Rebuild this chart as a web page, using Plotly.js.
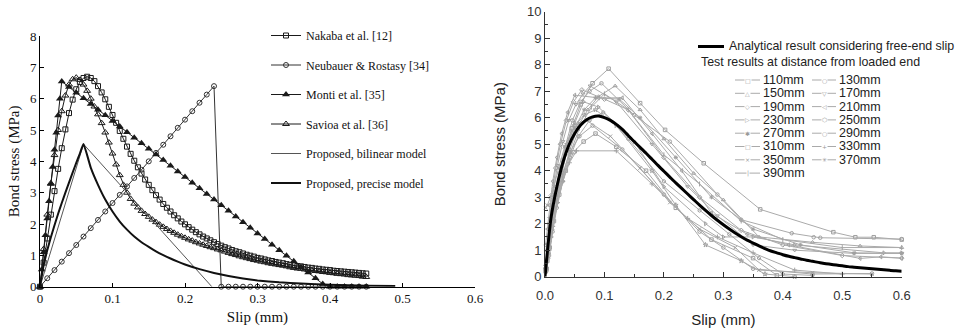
<!DOCTYPE html>
<html><head><meta charset="utf-8">
<script src="https://cdn.plot.ly/plotly-3.0.1.min.js"></script>
<style>html,body{margin:0;padding:0;background:#fff}#chart{width:961px;height:332px}</style>
</head><body><div id="chart"></div>
<script>
// ---------------- LEFT CHART DATA ----------------
// Nakaba et al. [12] : slip 0..0.45 step 0.005
const nakabaY = [0,0.77,1.54,2.30,3.05,3.76,4.42,5.02,5.54,5.97,6.30,
 6.53,6.66,6.70,6.66,6.56, 6.40,6.20,5.98,5.74,5.48, 5.23,4.97,4.72,4.47,4.24,
 4.02,3.81,3.61,3.42,3.25, 3.08,2.92,2.78,2.64,2.52, 2.40,2.28,2.18,2.08,1.99,
 1.90,1.82,1.74,1.67,1.60, 1.54,1.48,1.42,1.36,1.31, 1.26,1.22,1.17,1.13,1.10,
 1.06,1.02,0.99,0.96,0.92, 0.90,0.87,0.84,0.82,0.79, 0.77,0.75,0.72,0.70,0.68,
 0.66,0.65,0.63,0.61,0.60, 0.58,0.57,0.55,0.54,0.53, 0.51,0.50,0.49,0.48,0.47,
 0.46,0.45,0.44,0.43,0.42];
// Neubauer & Rostasy [34] : slip 0..0.45 step 0.01
const neubauerY = [0,0.27,0.53,0.8,1.07,1.33,1.6,1.87,2.13,2.4,2.67,2.93,3.2,3.47,3.73,4.0,
 4.27,4.53,4.8,5.07,5.33,5.6,5.87,6.13,6.4, 0,0,0,0,0,0,0,0,0,0,0,0,0,0,0,0,0,0,0,0,0];
// Monti et al. [35]
const montiX = [0,0.0025,0.005,0.0075,0.01,0.0125,0.015,0.0175,0.02,0.0225,0.025,0.0275,0.03,
 0.04,0.05,0.06,0.07,0.08,0.09,0.10,0.11,0.12,0.13,0.14,0.15,0.16,0.17,0.18,0.19,0.20,0.21,0.22,0.23,
 0.24,0.25,0.26,0.27,0.28,0.29,0.30,0.31,0.32,0.33,0.34,0.35,0.36,0.37,0.38,0.39,0.40,0.41,0.42,0.43,0.44,0.45];
const montiY = [0,0.55,1.1,1.64,2.18,2.73,3.28,3.82,4.37,4.91,5.46,6.0,6.55,
 6.37,6.19,6.01,5.83,5.65,5.47,5.29,5.11,4.93,4.75, 4.58,4.40,4.22,4.04,3.86,3.68,3.50,3.32,3.14,2.96,
 2.78,2.60,2.42,2.24,2.06,1.88,1.70,1.52,1.34,1.16, 0.99,0.81,0.63,0.45,0.27,0.09, 0,0,0,0,0,0];
// Savioa et al. [36] : slip 0..0.45 step 0.005
const savioaY = [0,1.2,2.3,3.3,4.2,5.0,5.6,6.1,6.45,6.62,6.67,
 6.6,6.45,6.25,6.0,5.75, 5.5,5.22,4.92,4.6,4.25, 3.9,3.56,3.25,3.0,2.8,
 2.65,2.53,2.42,2.32,2.23, 2.14,2.06,1.98,1.91,1.84, 1.78,1.72,1.66,1.61,1.56,
 1.51,1.47,1.42,1.38,1.34, 1.30,1.26,1.23,1.19,1.16, 1.12,1.08,1.04,1.01,0.97,
 0.94,0.91,0.88,0.85,0.83, 0.80,0.78,0.75,0.73,0.71, 0.69,0.67,0.65,0.62,0.60,
 0.58,0.57,0.55,0.53,0.52, 0.50,0.49,0.47,0.46,0.44, 0.43,0.41,0.40,0.39,0.37,
 0.36,0.35,0.34,0.32,0.31];
// Proposed, bilinear model
const bilinX = [0,0.06,0.237];
const bilinY = [0,4.55,0];
// Proposed, precise model
const precX = [0,0.005,0.01,0.015,0.02,0.025,0.03,0.035,0.04,0.045,0.05,0.055,0.06,0.07,0.08,0.09,0.1,0.11,0.12,0.13,0.14,0.15,0.16,0.17,0.18,0.19,0.2,0.22,0.24,0.26,0.28,0.3,0.33,0.36,0.4,0.45,0.49];
const precY = [0,0.68,1.16,1.58,1.96,2.33,2.67,3.0,3.32,3.64,3.95,4.25,4.55,3.8,3.25,2.78,2.4,2.08,1.82,1.6,1.42,1.27,1.13,1.01,0.9,0.8,0.71,0.56,0.44,0.34,0.26,0.2,0.14,0.1,0.06,0.03,0.02];
const leftNames = ['Nakaba et al. [12]','Neubauer & Rostasy [34]','Monti et al. [35]','Savioa et al. [36]','Proposed, bilinear model','Proposed, precise model'];

// ---------------- RIGHT CHART DATA ----------------
// Analytical result : slip 0..0.6 step 0.01
const analyticY = [0,2.2,3.4,4.3,4.95,5.4,5.72,5.92,6.03,6.06,
 6.0,5.9,5.75,5.56,5.33,5.1,4.88,4.66,4.43,4.2,
 3.98,3.76,3.54,3.33,3.12,2.91,2.7,2.5,2.31,2.13,
 1.96,1.8,1.65,1.51,1.38,1.27,1.16,1.06,0.97,0.9,
 0.83,0.77,0.72,0.67,0.62,0.58,0.54,0.5,0.47,0.44,
 0.41,0.38,0.36,0.34,0.32,0.3,0.28,0.26,0.24,0.22,0.21];
const testLabels = ['110mm','130mm','150mm','170mm','190mm','210mm','230mm','250mm','270mm','290mm','310mm','330mm','350mm','370mm','390mm'];
const t110x=[0.001,0.004,0.008,0.013,0.02,0.03,0.045,0.06,0.08,0.107,0.16,0.202,0.267,0.362,0.485,0.522,0.553,0.6];
const t110y=[0.2,0.6,1.4,2.3,3.3,4.4,5.6,6.5,7.3,7.85,6.55,5.54,4.28,2.54,1.68,1.49,1.49,1.4];
const t130x=[0.001,0.005,0.01,0.016,0.024,0.034,0.046,0.06,0.075,0.095,0.15,0.21,0.29,0.33,0.415,0.452,0.463,0.6];
const t130y=[0.3,1.0,1.9,2.9,3.9,4.9,5.9,6.6,7.0,7.3,6.1,5.1,3.1,2.15,1.64,1.49,1.47,1.42];
const t150x=[0.002,0.006,0.012,0.02,0.03,0.042,0.056,0.072,0.09,0.118,0.16,0.2,0.25,0.3,0.36,0.45,0.53,0.6];
const t150y=[0.3,0.9,1.8,2.8,3.8,4.8,5.7,6.3,6.8,7.2,6.3,5.2,3.9,2.9,1.5,1.3,1.16,1.1];
const t170x=[0.001,0.004,0.008,0.014,0.021,0.03,0.04,0.052,0.064,0.076,0.12,0.18,0.24,0.29,0.35,0.42,0.52,0.6];
const t170y=[0.4,1.2,2.2,3.2,4.2,5.1,5.9,6.5,6.9,7.2,6.6,5.0,3.4,2.3,1.2,1.0,0.88,0.88];
const t190x=[0.001,0.003,0.007,0.012,0.018,0.026,0.036,0.048,0.062,0.1,0.14,0.2,0.26,0.33,0.4,0.5,0.6];
const t190y=[0.3,1.0,2.0,3.1,4.1,5.0,5.9,6.6,7.05,6.7,6.3,4.5,3.0,1.75,1.2,0.8,0.7];
const t210x=[0.001,0.004,0.008,0.013,0.02,0.028,0.038,0.05,0.09,0.13,0.18,0.23,0.28,0.34,0.41,0.53,0.565,0.6];
const t210y=[1.2,1.8,2.7,3.6,4.5,5.4,6.2,6.85,6.75,6.75,5.4,4.0,2.4,1.6,1.2,0.69,0.75,0.7];
const t230x=[0.002,0.006,0.011,0.017,0.025,0.035,0.05,0.065,0.09,0.15,0.2,0.27,0.3,0.35,0.42,0.57,0.6];
const t230y=[0.2,0.7,1.5,2.5,3.5,4.6,5.8,6.6,6.4,5.1,3.4,2.0,1.5,1.5,1.2,0.9,0.9];
const t250x=[0.002,0.007,0.013,0.02,0.03,0.042,0.056,0.075,0.098,0.14,0.2,0.26,0.31,0.36,0.4,0.45];
const t250y=[0.2,0.8,1.7,2.6,3.6,4.5,5.3,5.9,6.2,5.2,3.6,2.5,1.6,0.7,0.1,0.05];
const t270x=[0.001,0.005,0.01,0.017,0.026,0.037,0.05,0.066,0.085,0.12,0.18,0.22,0.27,0.33,0.37,0.42];
const t270y=[0.3,1.1,2.1,3.1,4.1,5.0,5.7,6.1,6.3,5.7,4.0,2.7,1.2,0.6,0.1,0];
const t290x=[0.002,0.006,0.012,0.02,0.03,0.042,0.058,0.08,0.13,0.2,0.26,0.3,0.35,0.45,0.55];
const t290y=[0.2,0.9,1.9,2.9,3.9,4.7,5.3,5.7,4.8,3.1,1.7,1.1,0.3,0.1,0.12];
const t310x=[0.003,0.008,0.015,0.024,0.035,0.048,0.065,0.085,0.12,0.17,0.22,0.28,0.35,0.39];
const t310y=[0.3,1.1,2.1,3.1,4.0,4.7,5.1,5.4,4.9,4.0,2.6,1.4,0.7,0.05];
const t330x=[0.002,0.007,0.013,0.021,0.03,0.041,0.053,0.12,0.18,0.24,0.29,0.35,0.42,0.5];
const t330y=[0.3,1.0,1.9,2.8,3.6,4.3,4.75,4.75,3.5,2.2,1.5,0.9,0.25,0.1];
const t350x=[0.001,0.004,0.009,0.015,0.023,0.033,0.045,0.057,0.07,0.11,0.16,0.21,0.26,0.32,0.36,0.45,0.55];
const t350y=[2.6,2.7,3.0,3.4,4.1,4.9,5.5,5.8,5.9,5.3,4.1,2.8,1.8,1.1,0.25,0.15,0.1];
const t370x=[0.002,0.006,0.011,0.018,0.027,0.038,0.05,0.066,0.085,0.125,0.16,0.22,0.28,0.35,0.43,0.52,0.6];
const t370y=[0.3,1.0,1.9,2.9,3.9,4.8,5.6,6.3,6.75,6.7,6.0,4.5,3.0,1.8,1.2,0.9,0.88];
const t390x=[0.002,0.006,0.012,0.02,0.03,0.043,0.058,0.078,0.1,0.14,0.2,0.26,0.33,0.4,0.5,0.6];
const t390y=[0.2,0.8,1.7,2.7,3.7,4.7,5.6,6.4,6.9,6.3,4.6,3.5,2.1,1.4,1.1,1.1];

// ---------------- BUILD ----------------
const serif = "Liberation Serif";
const sans = "Liberation Sans";
const blk = '#1a1a1a';
const traces = [];
traces.push({x0:0,dx:0.005,y:nakabaY,name:leftNames[0],legendgroup:'g0',mode:'lines+markers',cliponaxis:false,
  line:{color:blk,width:1},marker:{symbol:'square-open',size:5,color:blk,line:{width:1}}});
traces.push({x0:0,dx:0.01,y:neubauerY,name:leftNames[1],legendgroup:'g1',mode:'lines+markers',cliponaxis:false,
  line:{color:'#333',width:1},marker:{symbol:'circle-open',size:5,color:'#333',line:{width:1}}});
traces.push({x:montiX,y:montiY,name:leftNames[2],legendgroup:'g2',mode:'lines+markers',cliponaxis:false,
  line:{color:blk,width:1},marker:{symbol:'triangle-up',size:7,color:blk}});
traces.push({x0:0,dx:0.005,y:savioaY,name:leftNames[3],legendgroup:'g3',mode:'lines+markers',cliponaxis:false,
  line:{color:blk,width:1},marker:{symbol:'triangle-up-open',size:6,color:blk,line:{width:1}}});
traces.push({x:bilinX,y:bilinY,name:leftNames[4],legendgroup:'g4',mode:'lines',cliponaxis:false,
  line:{color:'#555',width:1}});
traces.push({x:precX,y:precY,name:leftNames[5],legendgroup:'g5',mode:'lines',cliponaxis:false,
  line:{color:'#111',width:2,shape:'spline',smoothing:0.4}});

const testX=[t110x,t130x,t150x,t170x,t190x,t210x,t230x,t250x,t270x,t290x,t310x,t330x,t350x,t370x,t390x];
const testY=[t110y,t130y,t150y,t170y,t190y,t210y,t230y,t250y,t270y,t290y,t310y,t330y,t350y,t370y,t390y];
const syms=['square-open','circle-open','triangle-up-open','triangle-down-open','diamond-open','triangle-left-open','triangle-right-open','hexagon-open','star-open','circle-open','square-open','cross-thin-open','x-thin-open','asterisk-open','line-ns-open'];
for(let i=0;i<testLabels.length;i++){
  traces.push({x:testX[i],y:testY[i],name:testLabels[i],xaxis:'x2',yaxis:'y2',mode:'lines+markers',showlegend:false,cliponaxis:false,
    line:{color:'#aaaaaa',width:1},marker:{symbol:syms[i],size:3.5,color:'#a0a0a0',line:{width:1,color:'#a0a0a0'}}});
}
traces.push({x0:0,dx:0.01,y:analyticY,name:'Analytical result considering free-end slip',xaxis:'x2',yaxis:'y2',mode:'lines',showlegend:false,
  line:{color:'#000',width:3,shape:'spline',smoothing:0.6}});

// right legend (decorations)
const P=px=>px/961, Q=py=>1-py/332;
const shapes=[], ann=[];
shapes.push({type:'line',xref:'paper',yref:'paper',x0:P(698),x1:P(724),y0:Q(46.5),y1:Q(46.5),line:{color:'#000',width:3}});
ann.push({xref:'paper',yref:'paper',x:P(727),y:Q(46.5),xanchor:'left',yanchor:'middle',showarrow:false,
  text:'Analytical result considering free-end slip',font:{family:sans,size:12.4,color:'#222'}});
ann.push({xref:'paper',yref:'paper',x:P(699),y:Q(62),xanchor:'left',yanchor:'middle',showarrow:false,
  text:'Test results at distance from loaded end',font:{family:sans,size:12.4,color:'#222'}});
const glyphs=['□','○','△','▽','◇','◁','▷','⬡','✱','○','□','+','×','✳','|'];
for(let i=0;i<testLabels.length;i++){
  const col=i%2, row=Math.floor(i/2);
  const y=80+row*13.3;
  const lx0= col? 812:735, lx1= col? 836:760, tx= col? 837:761;
  shapes.push({type:'line',xref:'paper',yref:'paper',x0:P(lx0),x1:P(lx1),y0:Q(y),y1:Q(y),line:{color:'#aaa',width:1}});
  ann.push({xref:'paper',yref:'paper',x:P((lx0+lx1)/2),y:Q(y),xanchor:'center',yanchor:'middle',showarrow:false,
    text:glyphs[i],bgcolor:'#fff',borderpad:0,font:{family:'DejaVu Sans',size:6,color:'#999'}});
  ann.push({xref:'paper',yref:'paper',x:P(tx),y:Q(y),xanchor:'left',yanchor:'middle',showarrow:false,
    text:testLabels[i],font:{family:sans,size:12.5,color:'#222'}});
}

const layout={
  width:961,height:332,margin:{l:0,r:0,t:0,b:0},paper_bgcolor:'#fff',plot_bgcolor:'rgba(0,0,0,0)',
  font:{family:serif,size:13,color:'#111'},
  showlegend:true,
  legend:{x:P(266),y:Q(21),xanchor:'left',yanchor:'top',traceorder:'grouped',tracegroupgap:10.5,itemwidth:30,
    bgcolor:'rgba(0,0,0,0)',font:{family:serif,size:12,color:'#111'}},
  xaxis:{domain:[P(40),P(475)],range:[0,0.6],dtick:0.1,tick0:0,ticks:'inside',ticklen:4,tickcolor:'#000',
    showline:true,linecolor:'#000',linewidth:1,showgrid:false,zeroline:false,anchor:'y',
    tickfont:{family:serif,size:13,color:'#111'},title:{text:'Slip (mm)',font:{family:serif,size:15,color:'#111'},standoff:6}},
  yaxis:{domain:[Q(286.7),Q(36)],range:[0,8],dtick:1,tick0:0,ticks:'inside',ticklen:4,tickcolor:'#000',
    showline:true,linecolor:'#000',linewidth:1,showgrid:false,zeroline:false,anchor:'x',
    tickfont:{family:serif,size:13,color:'#111'},title:{text:'Bond stress (MPa)',font:{family:serif,size:15,color:'#111'},standoff:6}},
  xaxis2:{domain:[P(545),P(901.7)],range:[0,0.6],dtick:0.1,tick0:0,tickformat:'.1f',ticks:'inside',ticklen:5,tickcolor:'#333',
    ticklabelstandoff:7,
    minor:{ticks:'inside',ticklen:3,dtick:0.05,tickcolor:'#333'},
    showline:true,linecolor:'#333',linewidth:1,showgrid:false,zeroline:false,anchor:'y2',
    tickfont:{family:sans,size:13,color:'#333'},title:{text:'Slip (mm)',font:{family:sans,size:15,color:'#222'},standoff:12}},
  yaxis2:{domain:[Q(276.7),Q(11.7)],range:[0,10],dtick:1,tick0:0,ticks:'inside',ticklen:5,tickcolor:'#333',
    minor:{ticks:'inside',ticklen:3,dtick:0.5,tickcolor:'#333'},
    showline:true,linecolor:'#333',linewidth:1,showgrid:false,zeroline:false,anchor:'x2',
    tickfont:{family:sans,size:13,color:'#333'},title:{text:'Bond stress (MPa)',font:{family:sans,size:15,color:'#222'},standoff:17}},
  shapes:shapes,annotations:ann
};
Plotly.newPlot('chart',traces,layout,{displayModeBar:false,staticPlot:true});
</script></body></html>
